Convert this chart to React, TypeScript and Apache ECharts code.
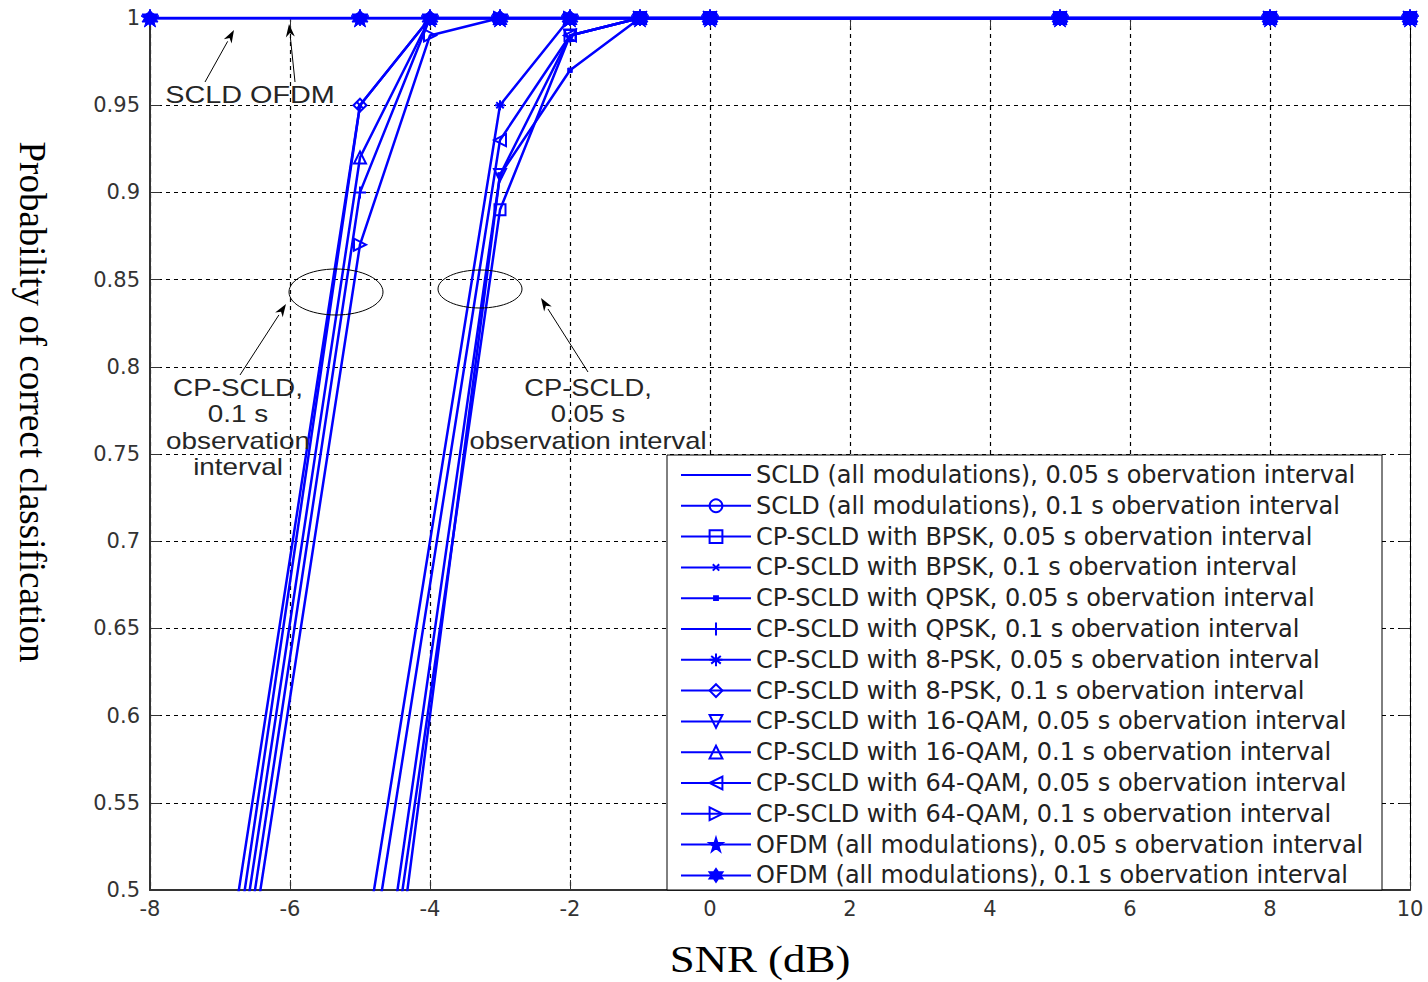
import React, { useEffect, useRef } from "react";
import * as echarts from "echarts";

// ---- data ----
const snr = [-8, -5, -4, -3, -2, -1, 0, 5, 8, 10];
const seriesNames = [
  "SCLD (all modulations), 0.05 s obervation interval",
  "SCLD (all modulations), 0.1 s obervation interval",
  "CP-SCLD with BPSK, 0.05 s obervation interval",
  "CP-SCLD with BPSK, 0.1 s obervation interval",
  "CP-SCLD with QPSK, 0.05 s obervation interval",
  "CP-SCLD with QPSK, 0.1 s obervation interval",
  "CP-SCLD with 8-PSK, 0.05 s obervation interval",
  "CP-SCLD with 8-PSK, 0.1 s obervation interval",
  "CP-SCLD with 16-QAM, 0.05 s obervation interval",
  "CP-SCLD with 16-QAM, 0.1 s obervation interval",
  "CP-SCLD with 64-QAM, 0.05 s obervation interval",
  "CP-SCLD with 64-QAM, 0.1 s obervation interval",
  "OFDM (all modulations), 0.05 s obervation interval",
  "OFDM (all modulations), 0.1 s obervation interval",
];
const scld005 = [1, 1, 1, 1, 1, 1, 1, 1, 1, 1];
const scld01 = [1, 1, 1, 1, 1, 1, 1, 1, 1, 1];
const bpsk005 = [null, 0.33, null, 0.89, 0.99, 1, 1, 1, 1, 1];
const bpsk01 = [0.17, 0.95, 1, 1, 1, 1, 1, 1, 1, 1];
const qpsk005 = [null, 0.29, null, 0.91, 0.97, 1, 1, 1, 1, 1];
const qpsk01 = [0.1, 0.9, 1, 1, 1, 1, 1, 1, 1, 1];
const psk8005 = [null, 0.45, null, 0.95, 1, 1, 1, 1, 1, 1];
const psk801 = [0.13, 0.95, 1, 1, 1, 1, 1, 1, 1, 1];
const qam16005 = [null, 0.35, null, 0.91, 0.99, 1, 1, 1, 1, 1];
const qam1601 = [0.12, 0.92, 1, 1, 1, 1, 1, 1, 1, 1];
const qam64005 = [null, 0.42, null, 0.93, 0.99, 1, 1, 1, 1, 1];
const qam6401 = [0.09, 0.87, 0.99, 1, 1, 1, 1, 1, 1, 1];
const ofdm005 = [1, 1, 1, 1, 1, 1, 1, 1, 1, 1];
const ofdm01 = [1, 1, 1, 1, 1, 1, 1, 1, 1, 1];
const seriesValues = [
  scld005, scld01, bpsk005, bpsk01, qpsk005, qpsk01, psk8005, psk801,
  qam16005, qam1601, qam64005, qam6401, ofdm005, ofdm01,
];
const xTicks = { min: -8, max: 10, step: 2 };
const yTicks = { min: 0.5, max: 1, step: 0.05 };

// ---- styles ----
const BLUE = "#0000ff";
const SYM = {
  x: "path://M0,0M10,10M2.5,2.5L7.5,7.5M7.5,2.5L2.5,7.5",
  plus: "path://M5,0L5,10M0,5L10,5",
  ast: "path://M5,0L5,10M1,5L9,5M2,2L8,8M8,2L2,8",
  dot: "path://M0,0M10,10M3.5,3.5L6.5,3.5L6.5,6.5L3.5,6.5Z",
  triUp: "path://M5,0L10,10L0,10Z",
  triDown: "path://M0,0L10,0L5,10Z",
  triLeft: "path://M0,5L10,0L10,10Z",
  triRight: "path://M0,0L10,5L0,10Z",
  pent: "path://M5,0L6.12,3.45L9.76,3.45L6.82,5.59L7.94,9.05L5,6.91L2.06,9.05L3.18,5.59L0.24,3.45L3.88,3.45Z",
  hex: "path://M5,0L9.33,7.5L0.67,7.5ZM5,10L0.67,2.5L9.33,2.5Z",
};
// symbol, size, filled?
const markerStyles: [string, number, boolean][] = [
  ["circle", 0, false],
  ["circle", 10, false],
  ["rect", 11, false],
  [SYM.x, 14, false],
  [SYM.dot, 15, true],
  [SYM.plus, 12, false],
  [SYM.ast, 10, false],
  ["diamond", 13, false],
  [SYM.triDown, 12, false],
  [SYM.triUp, 12, false],
  [SYM.triLeft, 12, false],
  [SYM.triRight, 12, false],
  [SYM.pent, 18, true],
  [SYM.hex, 16, true],
];

function arrow(x1: number, y1: number, x2: number, y2: number) {
  const a = Math.atan2(y2 - y1, x2 - x1);
  const L = 13, W = 4.5;
  const bx = x2 - L * Math.cos(a), by = y2 - L * Math.sin(a);
  const px = -Math.sin(a) * W, py = Math.cos(a) * W;
  return [
    { type: "line", z: 5, shape: { x1, y1, x2: bx, y2: by }, style: { stroke: "#000", lineWidth: 1 } },
    {
      type: "polygon", z: 5,
      shape: { points: [[x2, y2], [bx + px, by + py], [bx + 0.3 * (x2 - bx), by + 0.3 * (y2 - by)], [bx - px, by - py]] },
      style: { fill: "#000" },
    },
  ];
}

const annFont = { fontFamily: "Liberation Sans, Arial, sans-serif", fontSize: 24, fill: "#262626" };

export default function App() {
  const ref = useRef<HTMLDivElement>(null);
  useEffect(() => {
    if (!ref.current) return;
    const chart = echarts.init(ref.current, undefined, { renderer: "svg" });
    const series = seriesNames.map((name, i) => {
      const [symbol, size, filled] = markerStyles[i];
      const data = snr
        .map((x, k) => [x, seriesValues[i][k]])
        .filter((p) => p[1] !== null);
      return {
        type: "line",
        name,
        data,
        symbol,
        symbolSize: size,
        showSymbol: i !== 0,
        lineStyle: { color: BLUE, width: 2.5 },
        itemStyle:
          i === 0
            ? { color: "rgba(0,0,0,0)", borderWidth: 0 }
            : filled
            ? { color: BLUE, borderColor: BLUE, borderWidth: 1 }
            : { color: "rgba(0,0,0,0)", borderColor: BLUE, borderWidth: 2 },
        emphasis: { disabled: true },
        silent: true,
        z: 2,
      };
    });

    const axisCommon = {
      type: "value",
      axisLine: { show: true, onZero: false, lineStyle: { color: "#333", width: 2 } },
      axisTick: { show: true, inside: true, length: 10, lineStyle: { color: "#333", width: 1 } },
    };
    const labelStyle = { fontFamily: "DejaVu Sans, sans-serif", fontSize: 21, color: "#333" };
    const split = { show: true, lineStyle: { type: [4, 4], color: "#000", width: 1.2 } };

    chart.setOption({
      animation: false,
      backgroundColor: "#fff",
      grid: { left: 150, top: 18, width: 1260, height: 872, containLabel: false },
      xAxis: [
        {
          ...axisCommon, position: "bottom",
          min: xTicks.min, max: xTicks.max, interval: xTicks.step,
          axisLabel: { ...labelStyle, margin: 8 },
          splitLine: split,
        },
        {
          ...axisCommon, position: "top",
          min: xTicks.min, max: xTicks.max, interval: xTicks.step,
          axisLine: { show: true, onZero: false, lineStyle: { color: "#000", width: 1 } },
          axisLabel: { show: false },
          splitLine: { show: false },
        },
      ],
      yAxis: [
        {
          ...axisCommon, position: "left",
          min: yTicks.min, max: yTicks.max, interval: yTicks.step,
          axisLabel: { ...labelStyle, margin: 10, formatter: (v: number) => String(+v.toFixed(2)) },
          splitLine: split,
        },
        {
          ...axisCommon, position: "right",
          min: yTicks.min, max: yTicks.max, interval: yTicks.step,
          axisLine: { show: true, onZero: false, lineStyle: { color: "#000", width: 1 } },
          axisLabel: { show: false },
          splitLine: { show: false },
        },
      ],
      legend: {
        data: seriesNames,
        orient: "vertical",
        left: 680,
        top: 461,
        padding: 0,
        itemWidth: 70,
        itemHeight: 16,
        itemGap: 2.8,
        selectedMode: false,
        z: 20,
        textStyle: { fontFamily: "DejaVu Sans, sans-serif", fontSize: 24, color: "#222", lineHeight: 28 },
      },
      graphic: [
        {
          type: "rect", z: 10,
          shape: { x: 667, y: 455, width: 715, height: 435 },
          style: { fill: "#fff", stroke: "#000", lineWidth: 1 },
        },
        // axis titles
        {
          type: "text", x: 760, y: 959, scaleX: 1.15,
          style: { text: "SNR (dB)", fontFamily: "Liberation Serif, Times New Roman, serif", fontSize: 39, fill: "#000", align: "center", verticalAlign: "middle" },
        },
        {
          type: "text", x: 32, y: 402, rotation: -Math.PI / 2,
          style: { text: "Probability of correct classification", fontFamily: "Liberation Serif, Times New Roman, serif", fontSize: 37, fill: "#000", align: "center", verticalAlign: "middle" },
        },
        // annotations
        {
          type: "text", z: 5, x: 250, y: 95, scaleX: 1.2,
          style: { ...annFont, text: "SCLD OFDM", align: "center", verticalAlign: "middle" },
        },
        ...arrow(205, 82, 234, 30),
        ...arrow(295, 82, 289, 24),
        {
          type: "ellipse", z: 5, shape: { cx: 336, cy: 292, rx: 47, ry: 23 },
          style: { fill: "none", stroke: "#000", lineWidth: 1 },
        },
        {
          type: "ellipse", z: 5, shape: { cx: 480, cy: 289, rx: 42, ry: 19 },
          style: { fill: "none", stroke: "#000", lineWidth: 1 },
        },
        ...arrow(240, 375, 286, 304),
        ...arrow(588, 372, 541, 298),
        {
          type: "text", z: 5, x: 238, y: 374, scaleX: 1.16,
          style: { ...annFont, text: "CP-SCLD,\n0.1 s\nobservation\ninterval", align: "center", verticalAlign: "top", lineHeight: 26.5 },
        },
        {
          type: "text", z: 5, x: 588, y: 374, scaleX: 1.14,
          style: { ...annFont, text: "CP-SCLD,\n0.05 s\nobservation interval", align: "center", verticalAlign: "top", lineHeight: 26.5 },
        },
      ],
      series,
    });
    return () => chart.dispose();
  }, []);
  return (
    <div
      ref={ref}
      style={{ position: "fixed", left: 0, top: 0, width: 1428, height: 982, background: "#fff" }}
    />
  );
}
